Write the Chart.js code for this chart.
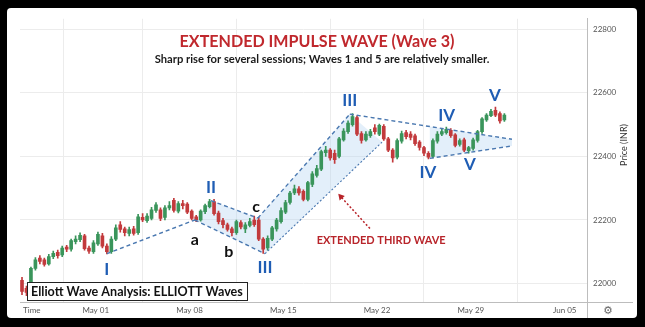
<!DOCTYPE html>
<html>
<head>
<meta charset="utf-8">
<script src="https://cdn.jsdelivr.net/npm/chart.js@4.4.1/dist/chart.umd.min.js"></script>
<style>
  html, body { margin:0; padding:0; background:#000; width:645px; height:327px; overflow:hidden; }
  #wrap { position:absolute; left:7px; top:8px; width:630px; height:310px; background:#fff; border-radius:4px; overflow:hidden; }
  canvas { display:block; }
</style>
</head>
<body>
<div id="wrap"><canvas id="c" width="630" height="310"></canvas></div>
<script>
// ---- Data (candle index = position on time axis, 3 sessions per day) ----
const opens  = [22010,21985,21980,22048,22080,22075,22062,22085,22098,22090,22115,22108,22132,22138,22150,22112,22100,22125,22150,22118,
                22100,22140,22185,22172,22158,22172,22160,22208,22198,22205,22230,22232,22208,22238,22262,22228,22252,22250,22228,22210,
                22200,22226,22242,22258,22222,22198,22185,22172,22160,22192,22172,22183,22200,22200,22140,22112,22140,22172,22195,22225,
                22255,22285,22298,22290,22265,22312,22340,22360,22412,22420,22410,22400,22452,22478,22500,22522,22472,22452,22465,22490,
                22470,22495,22455,22420,22398,22448,22475,22470,22465,22445,22428,22410,22400,22448,22470,22475,22482,22468,22438,22452,
                22418,22425,22450,22478,22515,22528,22545,22535,22515];
const highs  = [22020,21992,22052,22082,22088,22080,22092,22102,22105,22118,22120,22140,22150,22160,22155,22118,22135,22162,22158,22125,
                22148,22185,22195,22178,22178,22180,22218,22220,22220,22240,22255,22238,22245,22258,22268,22258,22262,22255,22232,22215,
                22232,22250,22265,22265,22228,22205,22190,22178,22200,22198,22192,22205,22212,22208,22145,22150,22180,22205,22238,22262,
                22290,22310,22305,22295,22322,22352,22372,22420,22432,22425,22420,22460,22488,22512,22535,22528,22478,22478,22485,22500,
                22502,22500,22460,22425,22455,22480,22482,22478,22470,22450,22432,22415,22455,22478,22488,22492,22488,22472,22455,22458,
                22432,22458,22482,22522,22535,22548,22555,22540,22535];
const lows   = [21965,21962,21975,22042,22062,22055,22058,22078,22080,22085,22100,22102,22125,22132,22105,22095,22095,22120,22112,22093,
                22095,22135,22162,22150,22150,22152,22155,22195,22192,22200,22224,22198,22200,22232,22225,22222,22235,22220,22200,22195,
                22196,22220,22238,22215,22188,22175,22165,22150,22155,22172,22160,22178,22180,22135,22095,22105,22135,22165,22190,22220,
                22250,22280,22278,22260,22260,22305,22335,22355,22400,22388,22378,22395,22448,22472,22495,22465,22442,22448,22460,22470,
                22465,22450,22415,22382,22392,22442,22455,22452,22435,22420,22402,22392,22395,22442,22465,22470,22460,22430,22432,22415,
                22410,22420,22445,22472,22510,22525,22525,22505,22510];
const closes = [21975,21972,22048,22075,22070,22060,22085,22095,22088,22112,22108,22135,22140,22152,22110,22102,22128,22155,22118,22100,
                22140,22175,22170,22160,22170,22158,22210,22200,22212,22232,22248,22205,22238,22245,22230,22252,22245,22225,22205,22200,
                22228,22245,22258,22220,22195,22185,22170,22160,22195,22178,22185,22195,22185,22140,22108,22142,22175,22200,22230,22255,
                22285,22298,22285,22265,22318,22345,22362,22415,22420,22395,22390,22455,22480,22505,22525,22470,22450,22470,22478,22478,
                22498,22455,22420,22395,22450,22472,22462,22460,22440,22428,22410,22398,22450,22470,22478,22485,22465,22435,22450,22420,
                22428,22452,22478,22518,22530,22542,22530,22512,22530];

const priceTicks = [22000, 22200, 22400, 22600, 22800];
const timeTickLabels = ['Time', 'May 01', 'May 08', 'May 15', 'May 22', 'May 29', 'Jun 05'];
const timeTickIndex  = [2.2, 16.5, 37.5, 58.5, 79.5, 100.5, 121.5];

// Wave drawing points (candle index, price)
const waveI_a      = [{x:19.0,y:22094},{x:38.7,y:22200}];
const abcLower     = [{x:38.7,y:22200},{x:54.4,y:22094}];
const abcUpper     = [{x:42.3,y:22261},{x:52.8,y:22206}];
const abcFill      = [{x:38.7,y:22200},{x:42.3,y:22261},{x:52.8,y:22206},{x:54.4,y:22094},{x:38.7,y:22200}];
const w3Upper      = [{x:52.8,y:22206},{x:73.4,y:22533}];
const w3Lower      = [{x:54.4,y:22094},{x:80.6,y:22445}];
const w3Fill       = [{x:52.8,y:22206},{x:73.4,y:22533},{x:80.6,y:22445},{x:54.4,y:22094},{x:52.8,y:22206}];
const triUpper     = [{x:73.4,y:22533},{x:109.7,y:22454}];
const triLower     = [{x:91.3,y:22394},{x:109.7,y:22433}];
const triFill      = [{x:91.3,y:22394},{x:91.3,y:22494},{x:109.7,y:22454},{x:109.7,y:22433},{x:91.3,y:22394}];
const arrowPts     = [{x:77.9,y:22173},{x:71.4,y:22273}];

const waveLabels = [
  {t:'I',   x:19.0, y:22045, c:'blue'},
  {t:'II',  x:42.3, y:22303, c:'blue'},
  {t:'III', x:54.4, y:22052, c:'blue'},
  {t:'III', x:73.4, y:22576, c:'blue'},
  {t:'IV',  x:95.1, y:22530, c:'blue'},
  {t:'IV',  x:90.9, y:22349, c:'blue'},
  {t:'V',   x:100.3,y:22373, c:'blue'},
  {t:'V',   x:105.9,y:22591, c:'blue'},
  {t:'a',   x:38.7, y:22139, c:'black'},
  {t:'b',   x:46.3, y:22100, c:'black'},
  {t:'c',   x:52.4, y:22242, c:'black'}
];

// ---- styles ----
const GREEN = '#3a955b', RED = '#c23a3c', BLUE = '#1f5db4', DASH = '#4a78b0', FILL = 'rgba(185,215,242,0.40)';
const candleColor = c => closes[c.dataIndex] >= opens[c.dataIndex] ? GREEN : RED;

const wickData = lows.map((l, i) => ({x: i, y: [l, highs[i]]}));
const bodyData = opens.map((o, i) => ({x: i, y: [o, closes[i]]}));

function lineDs(data, opts) {
  return Object.assign({type:'line', data, borderColor: DASH, borderWidth: 1.4, borderDash:[4,3],
    pointRadius: 0, fill: false, tension: 0, order: 0}, opts || {});
}
function fillDs(data) {
  return {type:'line', data, borderWidth: 0, borderColor:'rgba(0,0,0,0)', backgroundColor: FILL,
    pointRadius: 0, fill: 'shape', tension: 0, order: 10};
}

function fitSize(ctx, text, weight, family, w) {
  ctx.font = weight + ' 100px ' + family;
  return 100 * w / ctx.measureText(text).width;
}

const annot = {
  id: 'annot',
  afterDatasetsDraw(chart) {
    const {ctx, scales: {x, y}} = chart;
    ctx.save();
    ctx.textAlign = 'center';
    ctx.textBaseline = 'middle';
    waveLabels.forEach(l => {
      ctx.font = (l.c === 'blue' ? 'bold 17px' : 'bold 16px') + ' Lato, sans-serif';
      ctx.fillStyle = l.c === 'blue' ? BLUE : '#111';
      ctx.fillText(l.t, x.getPixelForValue(l.x), y.getPixelForValue(l.y));
    });
    let t = 'EXTENDED THIRD WAVE';
    let s = fitSize(ctx, t, 'bold', 'Lato', 129);
    ctx.font = 'bold ' + s + 'px Lato';
    ctx.fillStyle = '#b8242a';
    ctx.fillText(t, x.getPixelForValue(80.4), y.getPixelForValue(22136));
    ctx.restore();
  },
  afterDraw(chart) {
    const {ctx, chartArea} = chart;
    ctx.save();
    ctx.textAlign = 'center';
    ctx.textBaseline = 'middle';
    let t = 'EXTENDED IMPULSE WAVE (Wave 3)';
    let s = fitSize(ctx, t, 'bold', 'Lato', 275);
    ctx.font = 'bold ' + s + 'px Lato';
    ctx.fillStyle = '#c0282d';
    ctx.fillText(t, 310, 34);
    t = 'Sharp rise for several sessions; Waves 1 and 5 are relatively smaller.';
    s = fitSize(ctx, t, 'bold', 'Lato', 335);
    ctx.font = 'bold ' + s + 'px Lato';
    ctx.fillStyle = '#1a1a1a';
    ctx.fillText(t, 315, 51);
    // bottom-left box
    ctx.fillStyle = '#fff';
    ctx.fillRect(20.5, 274.5, 220, 18);
    ctx.strokeStyle = '#222';
    ctx.lineWidth = 1;
    ctx.strokeRect(20.5, 274.5, 220, 18);
    t = 'Elliott Wave Analysis: ELLIOTT Waves';
    s = fitSize(ctx, t, 'bold', 'Lato', 212);
    ctx.font = 'bold ' + s + 'px Lato';
    ctx.fillStyle = '#111';
    ctx.textAlign = 'left';
    ctx.fillText(t, 24, 284);
    // price axis title, reading bottom to top
    ctx.save();
    ctx.translate(617, 137);
    ctx.rotate(-Math.PI / 2);
    ctx.textAlign = 'center';
    ctx.font = '9px Lato';
    ctx.fillStyle = '#333';
    ctx.fillText('Price (INR)', 0, 0);
    ctx.restore();
    // axis line extension under price scale
    ctx.strokeStyle = '#bdbdbd';
    ctx.beginPath();
    ctx.moveTo(chartArea.right, chartArea.bottom + 0.5);
    ctx.lineTo(626, chartArea.bottom + 0.5);
    ctx.stroke();
    ctx.beginPath();
    ctx.moveTo(chartArea.right + 0.5, chartArea.bottom);
    ctx.lineTo(chartArea.right + 0.5, 310);
    ctx.stroke();
    // gear icon
    ctx.textAlign = 'center';
    ctx.font = '11px "DejaVu Sans"';
    ctx.fillStyle = '#666';
    ctx.fillText('\u2699', 601, 303);
    ctx.restore();
  }
};

new Chart(document.getElementById('c'), {
  type: 'bar',
  data: {
    datasets: [
      fillDs(abcFill), fillDs(w3Fill), fillDs(triFill),
      {type:'bar', data: wickData, backgroundColor: candleColor, barThickness: 1, grouped: false, order: 3},
      {type:'bar', data: bodyData, backgroundColor: candleColor, barThickness: 3, grouped: false, minBarLength: 1, order: 2},
      lineDs(waveI_a), lineDs(abcLower), lineDs(abcUpper), lineDs(w3Upper),
      lineDs(w3Lower, {borderDash:[2,2], borderWidth: 1.1}),
      lineDs(triUpper), lineDs(triLower),
      lineDs(arrowPts, {borderColor:'#b8242a', borderDash:[2,2], borderWidth:1.5,
        pointRadius:[0,4], pointStyle:'triangle', pointRotation:-41,
        pointBackgroundColor:'#b8242a', pointBorderColor:'#b8242a', pointBorderWidth: 0})
    ]
  },
  options: {
    responsive: false,
    animation: false,
    devicePixelRatio: 1,
    layout: { padding: { left: 13, right: 0, top: 0, bottom: 0 } },
    plugins: { legend: { display: false }, tooltip: { enabled: false } },
    scales: {
      x: {
        type: 'linear', min: -0.45, max: 126.5, offset: false,
        afterBuildTicks: s => { s.ticks = timeTickIndex.map(v => ({value: v})); },
        afterFit: s => { s.height = 16; },
        ticks: {
          autoSkip: false, maxRotation: 0, padding: 4,
          font: { size: 8, family: 'Lato' }, color: '#555',
          callback: (v, i) => timeTickLabels[i]
        },
        grid: { color: c => (c.index === 0 ? 'rgba(0,0,0,0)' : '#ececec'), drawTicks: false },
        border: { color: '#bdbdbd' }
      },
      y: {
        type: 'linear', position: 'right', min: 21942, max: 22833,
        afterBuildTicks: s => { s.ticks = priceTicks.map(v => ({value: v})); },
        afterFit: s => { s.width = 50; },
        ticks: { padding: 6, font: { size: 8, family: 'Lato' }, color: '#555', callback: v => String(v) },
        grid: { color: '#ececec', drawTicks: false },
        border: { color: '#bdbdbd' },
        title: { display: false }
      }
    }
  },
  plugins: [annot]
});
</script>
</body>
</html>
